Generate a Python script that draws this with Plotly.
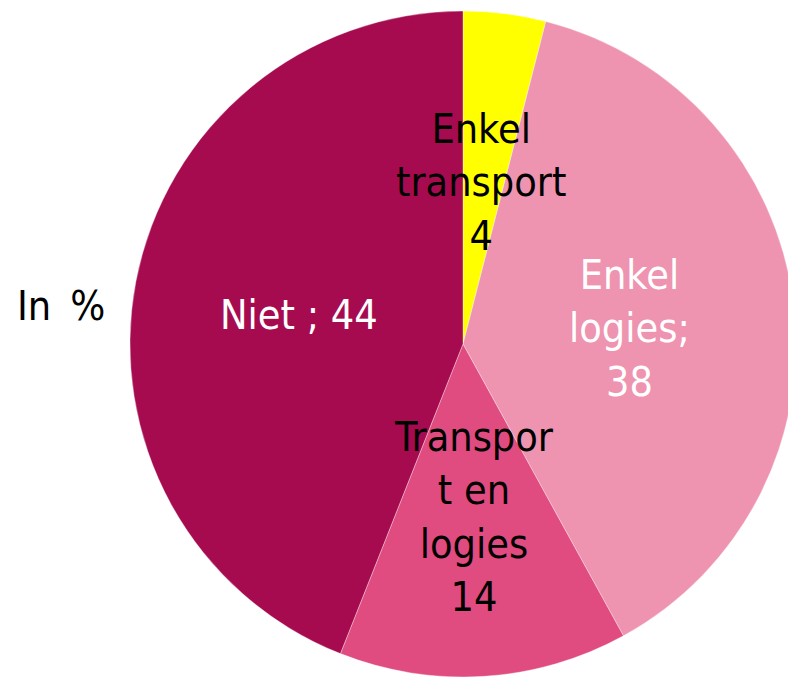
import plotly.graph_objects as go

categories = ["Enkel transport", "Enkel logies", "Transport en logies", "Niet"]
values = [4, 38, 14, 44]
colors = ["#FFFF00", "#EE93B0", "#E04B80", "#A60B50"]
# label text as shown in the chart (line-wrapped like the original)
label_lines = [["Enkel", "transport", "4"],
               ["Enkel", "logies;", "38"],
               ["Transpor", "t en", "logies", "14"],
               ["Niet ; 44"]]
label_colors = ["#000000", "#FFFFFF", "#000000", "#FFFFFF"]
label_pos_px = [(481, 183), (629, 328), (474, 517), (299, 315)]
unit_title = "In\u00a0\u2009%"

OFF = 8  # page body margin offsets the figure by 8px
W, H = 796 - OFF, 678 - OFF
FONT = "DejaVu Sans Condensed, DejaVu Sans, sans-serif"
FS = 41


def px_x(px):
    return (px - OFF) / W


def px_y(py):
    return 1 - (py - OFF) / H


fig = go.Figure(go.Pie(
    labels=categories,
    values=values,
    marker=dict(colors=colors, line=dict(color="rgba(255,255,255,0.6)", width=0.6)),
    sort=False,
    direction="clockwise",
    rotation=0,
    textinfo="none",
    hoverinfo="label+value",
    showlegend=False,
    domain=dict(x=[px_x(130), 1.0], y=[max(px_y(677), 0.0), px_y(11)]),
))

annotations = []
for lines, col, (px, py) in zip(label_lines, label_colors, label_pos_px):
    annotations.append(dict(
        text="<br>".join(lines), x=px_x(px), y=px_y(py), xref="paper", yref="paper",
        showarrow=False, xanchor="center", yanchor="middle", align="center",
        font=dict(family=FONT, size=FS, color=col),
    ))
annotations.append(dict(
    text=unit_title, x=px_x(61), y=px_y(306), xref="paper", yref="paper",
    showarrow=False, xanchor="center", yanchor="middle",
    font=dict(family=FONT, size=FS, color="#000000"),
))

fig.update_layout(
    width=W, height=H,
    margin=dict(l=0, r=0, t=0, b=0),
    paper_bgcolor="white", plot_bgcolor="white",
    annotations=annotations,
)

fig.write_html("out.html")
